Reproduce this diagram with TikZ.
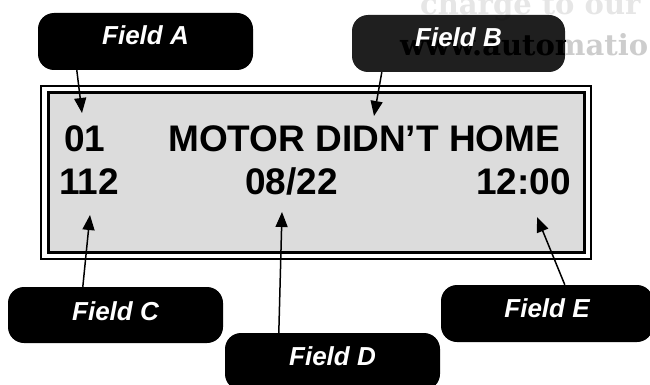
\documentclass[tikz,border=0pt]{standalone}
\usepackage{fontspec}
\setmainfont{Liberation Sans}
\newfontfamily\wmfont{DejaVu Serif}
\usetikzlibrary{arrows.meta}
\definecolor{lcdgray}{HTML}{DCDCDC}
\definecolor{wmlight}{HTML}{E6E6E6}
\definecolor{wmdark}{HTML}{CDCDCD}
\begin{document}
\begin{tikzpicture}[x=1pt,y=-1pt,
  fieldbox/.style={fill=black, rounded corners=16pt, text=white,
    font=\fontsize{26}{28}\selectfont\bfseries\itshape, inner sep=0pt,
    text height=32pt, text depth=25pt},
  lcd/.style={font=\fontsize{37}{40}\selectfont\bfseries, inner sep=0pt},
  wm/.style={font=\fontsize{29}{34}\selectfont\wmfont\bfseries, inner sep=0pt, anchor=base west},
  ptr/.style={line width=1.5pt, -{Triangle[length=15pt,width=12pt]}}]
\useasboundingbox (0,0) rectangle (650,385);
\begin{scope}
\clip (0,0) rectangle (650,385);
% watermark bleed-through
\node[wm, text=wmlight] (wm1) at (420,15) {charge to our};
\node[wm, text=wmdark] (wm2) at (400,56) {www.automatio};
\begin{scope}
\clip[rounded corners=16pt] (352,15) rectangle (565,72);
\node[wm, text=black] at (400,56) {www.automatio};
\end{scope}
% display frame
\draw[line width=2pt, fill=white] (41,86) rectangle (591,259);
\draw[line width=3pt, fill=lcdgray] (48,93) rectangle (584,252);
% display text
\node[lcd, anchor=base west] (t01) at (64,151) {01};
\node[lcd, anchor=base west] (tmsg) at (168,151) {MOTOR DIDN’T HOME};
\node[lcd, anchor=base west] (t112) at (59,194) {112};
\node[lcd, anchor=base west] (tdate) at (245,194) {08/22};
\node[lcd, anchor=base east] (ttime) at (571,194) {12:00};
% field boxes
\node[fieldbox, minimum width=215pt] (A) at (145.5,41.5) {Field A};
\node[fieldbox, fill opacity=0.88, text opacity=1, minimum width=213pt] (B) at (458.5,43.5) {Field B};
\node[fieldbox, minimum width=215pt, text height=33pt, text depth=23pt] (C) at (115.5,315) {Field C};
\node[fieldbox, minimum width=215pt] (D) at (332.5,361.5) {Field D};
\node[fieldbox, minimum width=212pt] (E) at (547,313.5) {Field E};
% arrow tips
\coordinate (pA) at (82,113);
\coordinate (pB) at (374,116);
\coordinate (pC) at (90,215);
\coordinate (pD) at (282,212);
\coordinate (pE) at (537,217);
\draw[ptr] ([xshift=39pt]A.south west) -- (pA);
\draw[ptr] ([xshift=30pt]B.south west) -- (pB);
\draw[ptr] ([xshift=75pt]C.north west) -- (pC);
\draw[ptr] ([xshift=54pt]D.north west) -- (pD);
\draw[ptr] ([xshift=124pt]E.north west) -- (pE);
\end{scope}
\end{tikzpicture}
\end{document}
